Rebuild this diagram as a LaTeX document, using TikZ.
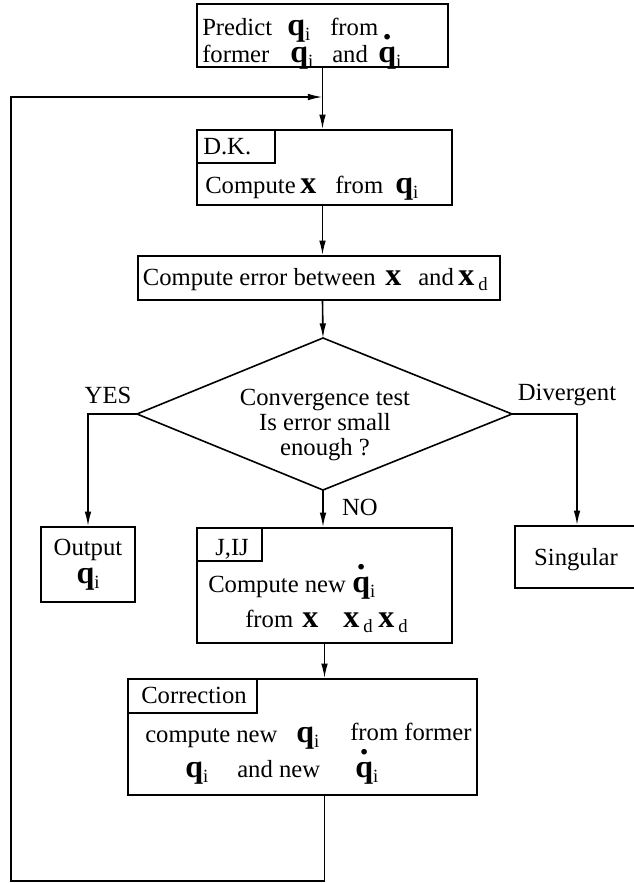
\documentclass[tikz,border=0pt]{standalone}
\usepackage{fontspec}
\setmainfont{Liberation Serif}
\usetikzlibrary{arrows.meta,fit}

\newcommand{\bq}{{\fontsize{24}{24}\selectfont\bfseries q}}
\newcommand{\bx}{{\fontsize{24}{24}\selectfont\bfseries x}}
\newcommand{\bqdot}{\setbox0\hbox{\bq}\rlap{\makebox[\wd0]{\raisebox{0.92em}{\fontsize{26}{26}\selectfont\bfseries .}}}\box0}
\newcommand{\sub}[1]{\raisebox{-0.22em}{\fontsize{14}{14}\selectfont #1}}

\tikzset{
  box/.style={draw, line width=1.2pt, inner sep=0pt},
  txt/.style={inner sep=0pt, anchor=base west, font=\fontsize{18.5}{22}\selectfont},
  arr/.style={line width=1.2pt, -{Latex[length=11pt,width=5pt]}},
  wire/.style={line width=1.2pt}
}

\begin{document}
\begin{tikzpicture}[x=0.75pt,y=0.75pt,yscale=-1,xscale=1]
\useasboundingbox (0,0) rectangle (634,883);

%Shape: Rectangle [predict]
\node[box, fit={(197,4) (448,67)}] (pred) {};
%Shape: Rectangle [direct kinematics]
\node[box, fit={(197,130) (452,205)}] (dk) {};
\node[box, fit={(197,130) (275,163)}] (dktab) {};
%Shape: Rectangle [error]
\node[box, fit={(138,256) (500,300)}] (err) {};
%Shape: Diamond [test]
\coordinate (dt) at (323,338);
\coordinate (dr) at (512,414);
\coordinate (db) at (323,490);
\coordinate (dl) at (137,414);
\draw[wire] (dt) -- (dr) -- (db) -- (dl) -- cycle;
%Shape: Rectangle [output]
\node[box, fit={(41,527) (135,602)}] (out) {};
%Shape: Rectangle [singular]
\node[box, fit={(515,526) (639,588)}] (sing) {};
%Shape: Rectangle [jacobian]
\node[box, fit={(197,528) (452,643)}] (jij) {};
\node[box, fit={(197,528) (262,561)}] (jijtab) {};
%Shape: Rectangle [correction]
\node[box, fit={(128,679) (477,795)}] (corr) {};
\node[box, fit={(128,679) (257,713)}] (corrtab) {};

% loop points
\coordinate (loopin) at (pred.south |- 0,97);
\coordinate (corrout) at (jij.south |- corr.south);
\coordinate (loopbl) at (11,881);

%Straight Lines
\draw[arr] (pred.south) -- (pred.south |- dk.north);
\draw[arr] (corrout) |- (loopbl) |- (loopin);
\draw[arr] (dk.south -| pred.south) -- (pred.south |- err.north);
\draw[arr] (pred.south |- err.south) -- (dt);
\draw[arr] (db) -- (db |- jij.north);
\draw[arr] (dl) -| (out.north);
\draw[arr] (dr) -| (sing.north);
\draw[arr] (jij.south) -- (jij.south |- corr.north);

% Text Node
\node[txt] (p1) at (202,35) {Predict};
\node[txt] (p2) at (287,35) {\bq\sub{i}};
\node[txt] (p3) at (330,35) {from};
\node[txt] (p4) at (202,62) {former};
\node[txt] (p5) at (290,62) {\bq\sub{i}};
\node[txt] (p6) at (332,62) {and};
\node[txt] (p7) at (378,62) {\bqdot\sub{i}};
% Text Node
\node[txt] (dkl) at (203,154) {D.K.};
\node[txt] (dk1) at (205,193) {Compute};
\node[txt] (dk2) at (300,193) {\bx};
\node[txt] (dk3) at (335,193) {from};
\node[txt] (dk4) at (395,193) {\bq\sub{i}};
% Text Node
\node[txt, anchor=base east] (e1) at (376,285) {Compute error between};
\node[txt] (e2) at (385,285) {\bx};
\node[txt] (e3) at (418,285) {and};
\node[txt] (e4) at (458,285) {\bx\,\sub{d}};
% Text Node
\node[txt, anchor=base] (c1) at (325,405) {Convergence test};
\node[txt, anchor=base] (c2) at (325,430) {Is error small};
\node[txt, anchor=base] (c3) at (325,455) {enough ?};
% Text Node
\node[txt, anchor=base] (yes) at (108,403) {YES};
\node[txt, anchor=base] (div) at (567,400) {Divergent};
\node[txt, anchor=base] (no) at (360,515) {NO};
% Text Node
\node[txt, anchor=base] (o1) at (88,555) {Output};
\node[txt, anchor=base] (o2) at (88,583) {\bq\sub{i}};
\node[txt, anchor=base] (s1) at (576,565) {Singular};
% Text Node
\node[txt] (jl) at (215,555) {J,IJ};
\node[txt] (j1) at (208,592) {Compute new};
\node[txt] (j2) at (352,592) {\bqdot\sub{i}};
\node[txt] (j3) at (245,627) {from};
\node[txt] (j4) at (302,627) {\bx};
\node[txt] (j5) at (343,627) {\bx\,\sub{d}};
\node[txt] (j6) at (378,627) {\bx\,\sub{d}};
% Text Node
\node[txt] (cl) at (141,703) {Correction};
\node[txt] (k1) at (145,742) {compute new};
\node[txt] (k2) at (296,742) {\bq\sub{i}};
\node[txt] (k3) at (350,740) {from former};
\node[txt] (k4) at (185,777) {\bq\sub{i}};
\node[txt] (k5) at (237,777) {and new};
\node[txt] (k6) at (355,777) {\bqdot\sub{i}};

\end{tikzpicture}
\end{document}
